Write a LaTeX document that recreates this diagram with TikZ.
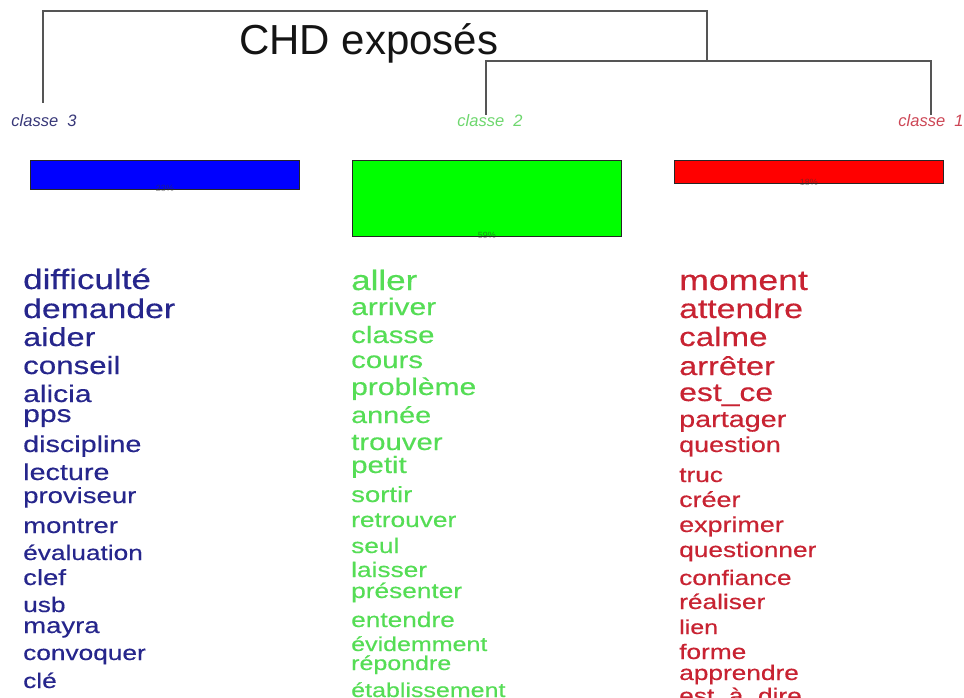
\documentclass[tikz,border=0pt]{standalone}
\usepackage{fontspec}
\setmainfont{Liberation Sans}
\newfontfamily\widefont[FakeStretch=1.25,FakeBold=0.4]{Liberation Sans}
\definecolor{dendgray}{RGB}{85,85,85}
\definecolor{navyword}{RGB}{38,38,140}
\definecolor{greenword}{RGB}{85,221,85}
\definecolor{redword}{RGB}{200,35,50}
\definecolor{lbl3}{RGB}{55,55,120}
\definecolor{lbl2}{RGB}{110,215,110}
\definecolor{lbl1}{RGB}{205,70,85}
\begin{document}
\begin{tikzpicture}[x=1pt,y=-1pt,
  dend/.style={draw=dendgray, line width=1.3pt},
  clslbl/.style={font=\itshape\fontsize{16.5}{16.5}\selectfont, inner sep=0, anchor=center},
  wordnode/.style={anchor=base west, inner sep=0},
  barbox/.style={draw=black!85, line width=0.8pt},
  pct/.style={font=\fontsize{9}{9}\selectfont, text=black!80, opacity=0.55, anchor=base, inner sep=0}]
\useasboundingbox[fill=white] (0,0) rectangle (964,698);

% title
\node[anchor=base west, inner sep=0, font=\fontsize{42}{42}\selectfont, text=black!92] (title) at (239,55) {CHD exposés};

% class labels
\node[clslbl, text=lbl3] (c3) at (44,121) {classe\ \ 3};
\node[clslbl, text=lbl2] (c2) at (490,121) {classe\ \ 2};
\node[clslbl, text=lbl1] (c1) at (931,121) {classe\ \ 1};

% dendrogram
\coordinate (n3) at (43,103);
\coordinate (n2) at (486,115);
\coordinate (n1) at (931,115);
\coordinate (jtop) at (707,11);
\coordinate (jsub) at (707,61);
\draw[dend] (n3) |- (jtop) -- (jsub);
\draw[dend] (n2) |- (jsub) -| (n1);

% bars
\node[barbox, fill=blue, minimum width=269pt, minimum height=29pt, inner sep=0, anchor=north west] (b3) at (30,160) {};
\node[barbox, fill={rgb,255:red,0;green,255;blue,0}, minimum width=269pt, minimum height=76pt, inner sep=0, anchor=north west] (b2) at (352,160) {};
\node[barbox, fill=red, minimum width=269pt, minimum height=23pt, inner sep=0, anchor=north west] (b1) at (674,160) {};
\node[pct] (p3) at ([yshift=-2pt]b3.south) {23\%};
\node[pct] (p2) at ([yshift=-2pt]b2.south) {59\%};
\node[pct] (p1) at ([yshift=-2pt]b1.south) {18\%};

% class 3 words
\foreach \w/\s/\y [count=\i] in {difficulté/28/289, demander/27/318, aider/26/346, conseil/25/374, alicia/24/402, pps/24/422, discipline/23/452, lecture/23/480, proviseur/22/503, montrer/22/533, évaluation/21/560, clef/22/585, usb/21/612, mayra/22/633, convoquer/21/660, clé/21/688}
  \node[wordnode, text=navyword, font=\widefont\fontsize{\s}{\s}\selectfont] (w3-\i) at (23,\y) {\w};

% class 2 words
\foreach \w/\s/\y [count=\i] in {aller/28/290, arriver/24/315, classe/23.5/343, cours/23.5/368, problème/24/395, année/23/423, trouver/23.5/450, petit/23.5/473, sortir/22/502, retrouver/21/527, seul/21/553, laisser/21/577, présenter/21/598, entendre/21/627, évidemment/20/651, répondre/20/670, établissement/20/697}
  \node[wordnode, text=greenword, font=\widefont\fontsize{\s}{\s}\selectfont] (w2-\i) at (351,\y) {\w};

% class 1 words
\foreach \w/\s/\y [count=\i] in {moment/28.5/290, attendre/27/318, calme/26.5/346, arrêter/26/375, est\_ce/25.5/401, partager/23/427, question/21.5/452, truc/21/482, créer/21.5/507, exprimer/21.5/532, questionner/21/557, confiance/21/585, réaliser/21/609, lien/20/634, forme/21/659, apprendre/21/680, est\_à\_dire/21/703}
  \node[wordnode, text=redword, font=\widefont\fontsize{\s}{\s}\selectfont] (w1-\i) at (679,\y) {\w};
\end{tikzpicture}
\end{document}
